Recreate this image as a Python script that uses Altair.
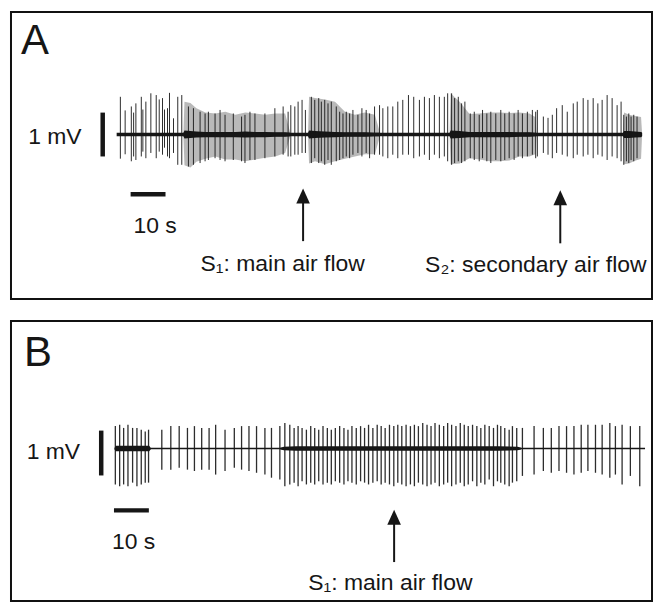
import altair as alt
import pandas as pd

FONT = "Liberation Sans"
INK = "#161616"

# ---------------------------------------------------------------- Panel A
# spikes: time (s), upward peak (mV), downward trough (mV, magnitude)
a_spike_t = [1.06, 2.43, 4.2, 4.86, 5.51, 7.06, 7.51, 8.37, 9.8, 11.34, 12.2, 13.14, 13.71, 14.57, 15.14, 16.29, 17.51, 18.66,
             20.57, 22.0, 23.91, 25.34, 26.29, 28.2, 29.63, 31.06, 33.43, 35.8, 36.77, 38.2, 39.63, 42.49, 45.34, 47.71, 49.14,
             49.91, 51.06, 52.0, 53.14, 54.09,
             55.8, 56.77, 57.91, 58.66, 59.63, 60.57, 61.51, 62.94, 63.91, 64.86,
             65.8, 66.77, 67.71, 69.14, 70.29, 71.51, 72.49, 73.91, 75.34, 76.29, 77.71, 79.14, 80.57, 82.0, 83.63, 85.14,
             86.77, 88.2, 89.63, 91.06, 92.49, 93.91, 94.86,
             96.0, 96.86, 97.91, 98.86, 99.8, 101.34, 102.49, 103.91, 104.86, 106.09, 107.23, 108.66, 110.09, 111.23, 112.49,
             113.91, 115.06, 116.29, 117.71, 119.14, 120.09,
             120.57, 122.29, 123.63, 124.86, 126.09, 127.71, 129.14, 130.86, 132.0, 133.71, 135.06, 136.57, 137.91, 139.14,
             140.57, 142.0, 143.43, 144.57,
             145.34, 146.09, 146.77, 147.43, 148.2, 149.14]
a_spike_up = [0.86, 0.55, 0.64, 0.50, 0.71, 0.86, 0.57, 0.75, 0.94, 0.90, 0.80, 0.83, 0.57, 0.60, 0.95, 0.37, 0.86, 0.90,
              0.64, 0.60, 0.52, 0.48, 0.52, 0.48, 0.56, 0.45, 0.48, 0.41, 0.45, 0.52, 0.48, 0.48, 0.60, 0.64, 0.52,
              0.67, 0.64, 0.75, 0.79, 0.56,
              0.86, 0.79, 0.83, 0.75, 0.79, 0.71, 0.75, 0.64, 0.52, 0.48,
              0.52, 0.48, 0.56, 0.45, 0.60, 0.56, 0.48, 0.64, 0.67, 0.60, 0.64, 0.64, 0.75, 0.79, 0.90, 0.86,
              0.79, 0.86, 0.83, 0.90, 0.86, 0.86, 0.94,
              0.94, 0.83, 0.86, 0.71, 0.75, 0.48, 0.52, 0.45, 0.56, 0.48, 0.52, 0.48, 0.56, 0.48, 0.52,
              0.48, 0.56, 0.48, 0.52, 0.56, 0.52,
              0.56, 0.41, 0.38, 0.45, 0.60, 0.67, 0.52, 0.71, 0.75, 0.83, 0.79, 0.83, 0.71, 0.79,
              0.90, 0.83, 0.67, 0.75,
              0.45, 0.41, 0.48, 0.41, 0.45, 0.41]
a_spike_dn = [0.55, 0.45, 0.61, 0.50, 0.58, 0.50, 0.39, 0.54, 0.42, 0.54, 0.39, 0.46, 0.30, 0.50, 0.54, 0.42, 0.69, 0.69,
              0.73, 0.69, 0.65, 0.61, 0.58, 0.54, 0.58, 0.61, 0.58, 0.61, 0.65, 0.58, 0.58, 0.54, 0.50, 0.46, 0.50,
              0.50, 0.46, 0.46, 0.42, 0.42,
              0.65, 0.54, 0.65, 0.61, 0.69, 0.58, 0.69, 0.61, 0.58, 0.54,
              0.50, 0.54, 0.46, 0.42, 0.50, 0.42, 0.54, 0.46, 0.46, 0.50, 0.54, 0.46, 0.54, 0.46, 0.46, 0.54,
              0.50, 0.46, 0.58, 0.46, 0.54, 0.50, 0.61,
              0.69, 0.65, 0.61, 0.65, 0.61, 0.54, 0.58, 0.61, 0.54, 0.61, 0.65, 0.58, 0.61, 0.58, 0.54,
              0.58, 0.50, 0.54, 0.50, 0.46, 0.54,
              0.50, 0.42, 0.46, 0.54, 0.42, 0.46, 0.50, 0.54, 0.46, 0.50, 0.46, 0.54, 0.46, 0.50,
              0.58, 0.50, 0.54, 0.61,
              0.69, 0.61, 0.65, 0.58, 0.61, 0.54]

# dense grey bursts: segment id, time (s), upper / lower envelope (mV), dark core (mV)
a_env_seg = [1] * 14 + [2] * 10 + [3] * 12 + [4] * 6
a_env_t = [19.14, 19.43, 21.14, 22.86, 25.43, 28.29, 31.14, 34.0, 36.86, 39.71, 42.57, 45.43, 48.29, 49.71,
           54.86, 55.14, 56.86, 59.71, 62.57, 65.43, 68.29, 71.14, 74.0, 75.43,
           95.43, 95.71, 98.29, 101.14, 104.0, 106.86, 109.71, 112.57, 115.43, 118.29, 120.0, 120.29,
           145.14, 145.43, 146.86, 148.57, 150.29, 150.57]
a_env_up = [0.05, 0.75, 0.72, 0.60, 0.50, 0.48, 0.52, 0.45, 0.50, 0.48, 0.45, 0.48, 0.48, 0.05,
            0.05, 0.86, 0.83, 0.80, 0.75, 0.52, 0.45, 0.50, 0.45, 0.05,
            0.05, 0.94, 0.75, 0.47, 0.48, 0.50, 0.50, 0.49, 0.50, 0.48, 0.40, 0.05,
            0.05, 0.50, 0.45, 0.42, 0.40, 0.05]
a_env_dn = [0.05, 0.70, 0.75, 0.62, 0.55, 0.50, 0.57, 0.57, 0.61, 0.57, 0.53, 0.50, 0.42, 0.05,
            0.05, 0.66, 0.61, 0.68, 0.61, 0.55, 0.50, 0.45, 0.45, 0.05,
            0.05, 0.68, 0.66, 0.54, 0.57, 0.61, 0.61, 0.59, 0.50, 0.50, 0.45, 0.05,
            0.05, 0.68, 0.66, 0.60, 0.55, 0.05]
a_env_core = [0.04, 0.09, 0.08, 0.07, 0.06, 0.06, 0.06, 0.06, 0.07, 0.06, 0.06, 0.05, 0.05, 0.04,
              0.04, 0.09, 0.08, 0.07, 0.06, 0.05, 0.05, 0.05, 0.04, 0.04,
              0.04, 0.09, 0.08, 0.06, 0.06, 0.06, 0.06, 0.06, 0.05, 0.05, 0.04, 0.04,
              0.04, 0.08, 0.08, 0.07, 0.06, 0.04]
a_trace_span = [0.0, 150.6]

a_labels = {"panel": "A", "mv": "1 mV", "sec": "10 s",
            "s1": "S\u2081: main air flow", "s2": "S\u2082: secondary air flow"}
a_arrow_t = [53.43, 127.14]
a_arrow_head = [-1.40, -1.44]
a_arrow_tail = [-2.43, -2.48]

# ---------------------------------------------------------------- Panel B
b_spike_t = [0.19, 1.43, 2.57, 3.81, 5.14, 6.38, 7.62, 8.76, 9.71,
             13.51, 16.09, 18.49, 20.86, 22.86, 24.94, 27.06, 28.94, 31.63, 34.29, 36.37, 38.49, 40.66, 43.06, 44.94,
             47.34, 48.77,
             50.19, 51.43, 52.57, 53.71, 54.95, 56.19, 57.33, 58.48, 59.71, 60.95, 62.09, 63.24, 64.48, 65.71, 66.86,
             68.0, 69.24, 70.48, 71.62, 72.76, 74.0, 75.24, 76.38, 77.52, 78.76, 80.0, 81.14, 82.29, 83.52, 84.76,
             85.9, 87.05, 88.29, 89.52, 90.67, 91.81, 93.05, 94.29, 95.43, 96.57, 97.81, 99.05, 100.19, 101.33,
             102.57, 103.8, 104.94, 106.09, 107.34, 108.57, 109.71, 110.66, 111.8, 113.06, 114.0, 115.23,
             116.86, 120.2, 122.86, 125.14, 127.34, 129.51, 131.63, 133.71, 135.63, 137.8, 139.71, 141.91, 143.51,
             145.43, 147.8, 150.49]
b_spike_up = [0.50, 0.53, 0.46, 0.53, 0.46, 0.46, 0.42, 0.38, 0.42,
              0.42, 0.50, 0.50, 0.46, 0.50, 0.46, 0.46, 0.53, 0.42, 0.46, 0.50, 0.50, 0.50, 0.46, 0.46,
              0.50, 0.57,
              0.53, 0.46, 0.50, 0.46, 0.42, 0.50, 0.46, 0.42, 0.50, 0.46, 0.42, 0.46, 0.50, 0.46, 0.42,
              0.50, 0.46, 0.50, 0.46, 0.53, 0.46, 0.53, 0.50, 0.46, 0.53, 0.50, 0.53, 0.50, 0.53, 0.50,
              0.53, 0.50, 0.57, 0.53, 0.50, 0.57, 0.53, 0.50, 0.57, 0.53, 0.50, 0.57, 0.53, 0.50,
              0.53, 0.50, 0.46, 0.53, 0.50, 0.46, 0.53, 0.50, 0.46, 0.42, 0.50, 0.46,
              0.46, 0.50, 0.46, 0.46, 0.50, 0.50, 0.50, 0.53, 0.53, 0.53, 0.53, 0.57, 0.50,
              0.53, 0.50, 0.50]
b_spike_dn = [0.80, 0.84, 0.80, 0.84, 0.76, 0.84, 0.80, 0.76, 0.76,
              0.47, 0.47, 0.43, 0.47, 0.50, 0.47, 0.47, 0.58, 0.50, 0.43, 0.47, 0.50, 0.54, 0.58, 0.65,
              0.69, 0.84,
              0.80, 0.76, 0.84, 0.73, 0.80, 0.76, 0.80, 0.73, 0.80, 0.76, 0.80, 0.73, 0.76, 0.80, 0.73,
              0.76, 0.80, 0.73, 0.76, 0.80, 0.76, 0.73, 0.80, 0.76, 0.80, 0.84, 0.76, 0.80, 0.84, 0.80,
              0.84, 0.76, 0.80, 0.84, 0.80, 0.76, 0.84, 0.80, 0.76, 0.84, 0.80, 0.76, 0.84, 0.80,
              0.73, 0.84, 0.76, 0.80, 0.69, 0.84, 0.73, 0.76, 0.80, 0.84, 0.76, 0.73,
              0.61, 0.58, 0.50, 0.54, 0.50, 0.54, 0.58, 0.54, 0.50, 0.54, 0.58, 0.65, 0.58,
              0.80, 0.61, 0.84]
# dark noise band around the baseline during bursts: segment, time (s), half-width (mV)
b_core_seg = [1, 1, 1, 1, 2, 2, 2, 2, 2, 2]
b_core_t = [0.0, 0.3, 9.9, 10.3, 47.5, 48.5, 52.0, 110.0, 115.5, 116.5]
b_core_w = [0.02, 0.06, 0.06, 0.02, 0.02, 0.04, 0.05, 0.05, 0.04, 0.02]
b_trace_span = [0.0, 152.0]

b_labels = {"panel": "B", "mv": "1 mV", "sec": "10 s", "s1": "S\u2081: main air flow"}
b_arrow_t = [80.09]
b_arrow_head = [-1.53]
b_arrow_tail = [-2.53]

ARROW = "M0,-1L0.9,1L-0.9,1Z"


def panel(width, height, xdom, ydom, spikes, spike_w, envelope, core, span, base_w,
          letter, mv_label, mv_bar, sec_label, sec_bar, arrows, arrow_texts):
    xs = alt.Scale(domain=xdom, nice=False, zero=False)
    ys = alt.Scale(domain=ydom, nice=False, zero=False)
    X = lambda f: alt.X(f, type="quantitative", scale=xs, axis=None)
    Y = lambda f: alt.Y(f, type="quantitative", scale=ys, axis=None)
    layers = []
    if envelope is not None:
        layers.append(alt.Chart(envelope).mark_area(color="#8e8e8e", opacity=0.62, interpolate="linear")
                      .encode(x=X("t"), y=Y("up"), y2="lo", detail="seg:N"))
    layers.append(alt.Chart(core).mark_area(color=INK, interpolate="linear")
                  .encode(x=X("t"), y=Y("up"), y2="lo", detail="seg:N"))
    layers.append(alt.Chart(span).mark_rule(color=INK, strokeWidth=base_w)
                  .encode(x=X("t0"), x2="t1", y=Y("v")))
    layers.append(alt.Chart(spikes).mark_rule(color=INK, strokeWidth=spike_w, opacity=0.9)
                  .encode(x=X("t"), y=Y("up"), y2="lo"))
    # scale bars
    layers.append(alt.Chart(mv_bar).mark_rule(color=INK, strokeWidth=4.5, strokeCap="butt")
                  .encode(x=X("t"), y=Y("v0"), y2="v1"))
    layers.append(alt.Chart(sec_bar).mark_rule(color=INK, strokeWidth=4.5, strokeCap="butt")
                  .encode(x=X("t0"), x2="t1", y=Y("v")))
    # arrows
    layers.append(alt.Chart(arrows).mark_rule(color=INK, strokeWidth=2)
                  .encode(x=X("t"), y=Y("tail"), y2="neck"))
    layers.append(alt.Chart(arrows).mark_point(shape=ARROW, size=230, filled=True, color=INK,
                                               opacity=1, strokeWidth=0)
                  .encode(x=X("t"), y=Y("head")))
    # texts
    layers.append(alt.Chart(letter).mark_text(align="left", baseline="alphabetic", fontSize=42,
                                              font=FONT, color=INK)
                  .encode(x=X("t"), y=Y("v"), text="label:N"))
    small = pd.concat([mv_label, sec_label, arrow_texts], ignore_index=True)
    layers.append(alt.Chart(small).mark_text(align="center", baseline="alphabetic", fontSize=23,
                                             font=FONT, color=INK)
                  .encode(x=X("t"), y=Y("v"), text="label:N"))
    return alt.layer(*layers).properties(width=width, height=height)


def spikes_df(t, up, dn):
    return pd.DataFrame({"t": t, "up": up, "lo": [-d for d in dn]})


A = panel(
    643, 288, [-30.286, 153.43], [-3.75, 2.7955],
    spikes_df(a_spike_t, a_spike_up, a_spike_dn), 1.0,
    pd.DataFrame({"seg": a_env_seg, "t": a_env_t, "up": a_env_up, "lo": [-d for d in a_env_dn]}),
    pd.DataFrame({"seg": a_env_seg, "t": a_env_t, "up": a_env_core, "lo": [-c for c in a_env_core]}),
    pd.DataFrame({"t0": [a_trace_span[0]], "t1": [a_trace_span[1]], "v": [0.0]}), 3.4,
    pd.DataFrame({"t": [-27.43], "v": [1.84], "label": [a_labels["panel"]]}),
    pd.DataFrame({"t": [-17.71], "v": [-0.205], "label": [a_labels["mv"]]}),
    pd.DataFrame({"t": [-4.0], "v0": [-0.5], "v1": [0.5]}),
    pd.DataFrame({"t": [11.0], "v": [-2.24], "label": [a_labels["sec"]]}),
    pd.DataFrame({"t0": [4.0], "t1": [14.0], "v": [-1.364]}),
    pd.DataFrame({"t": a_arrow_t, "head": a_arrow_head, "neck": [h - 0.12 for h in a_arrow_head],
                  "tail": a_arrow_tail}),
    pd.DataFrame({"t": [47.57, 120.14], "v": [-3.11, -3.13], "label": [a_labels["s1"], a_labels["s2"]]}),
)

B = panel(
    643, 281, [-29.714, 154.0], [-3.4, 2.844],
    spikes_df(b_spike_t, b_spike_up, b_spike_dn), 1.3,
    None,
    pd.DataFrame({"seg": b_core_seg, "t": b_core_t, "up": b_core_w, "lo": [-w for w in b_core_w]}),
    pd.DataFrame({"t0": [b_trace_span[0]], "t1": [b_trace_span[1]], "v": [0.0]}), 1.6,
    pd.DataFrame({"t": [-26.0], "v": [1.844], "label": [b_labels["panel"]]}),
    pd.DataFrame({"t": [-17.57], "v": [-0.244], "label": [b_labels["mv"]]}),
    pd.DataFrame({"t": [-3.857], "v0": [-0.6], "v1": [0.4]}),
    pd.DataFrame({"t": [5.43], "v": [-2.244], "label": [b_labels["sec"]]}),
    pd.DataFrame({"t0": [-0.2], "t1": [9.8], "v": [-1.378]}),
    pd.DataFrame({"t": b_arrow_t, "head": b_arrow_head, "neck": [h - 0.12 for h in b_arrow_head],
                  "tail": b_arrow_tail}),
    pd.DataFrame({"t": [79.0], "v": [-3.156], "label": [b_labels["s1"]]}),
)

chart = (
    alt.vconcat(A, B, spacing=20)
    .properties(padding={"left": 2, "top": 2, "right": 1, "bottom": 1}, background="white")
    .configure_view(stroke="#111111", strokeWidth=2)
)

chart.save("out.html", embed_options={"renderer": "svg", "actions": False})
